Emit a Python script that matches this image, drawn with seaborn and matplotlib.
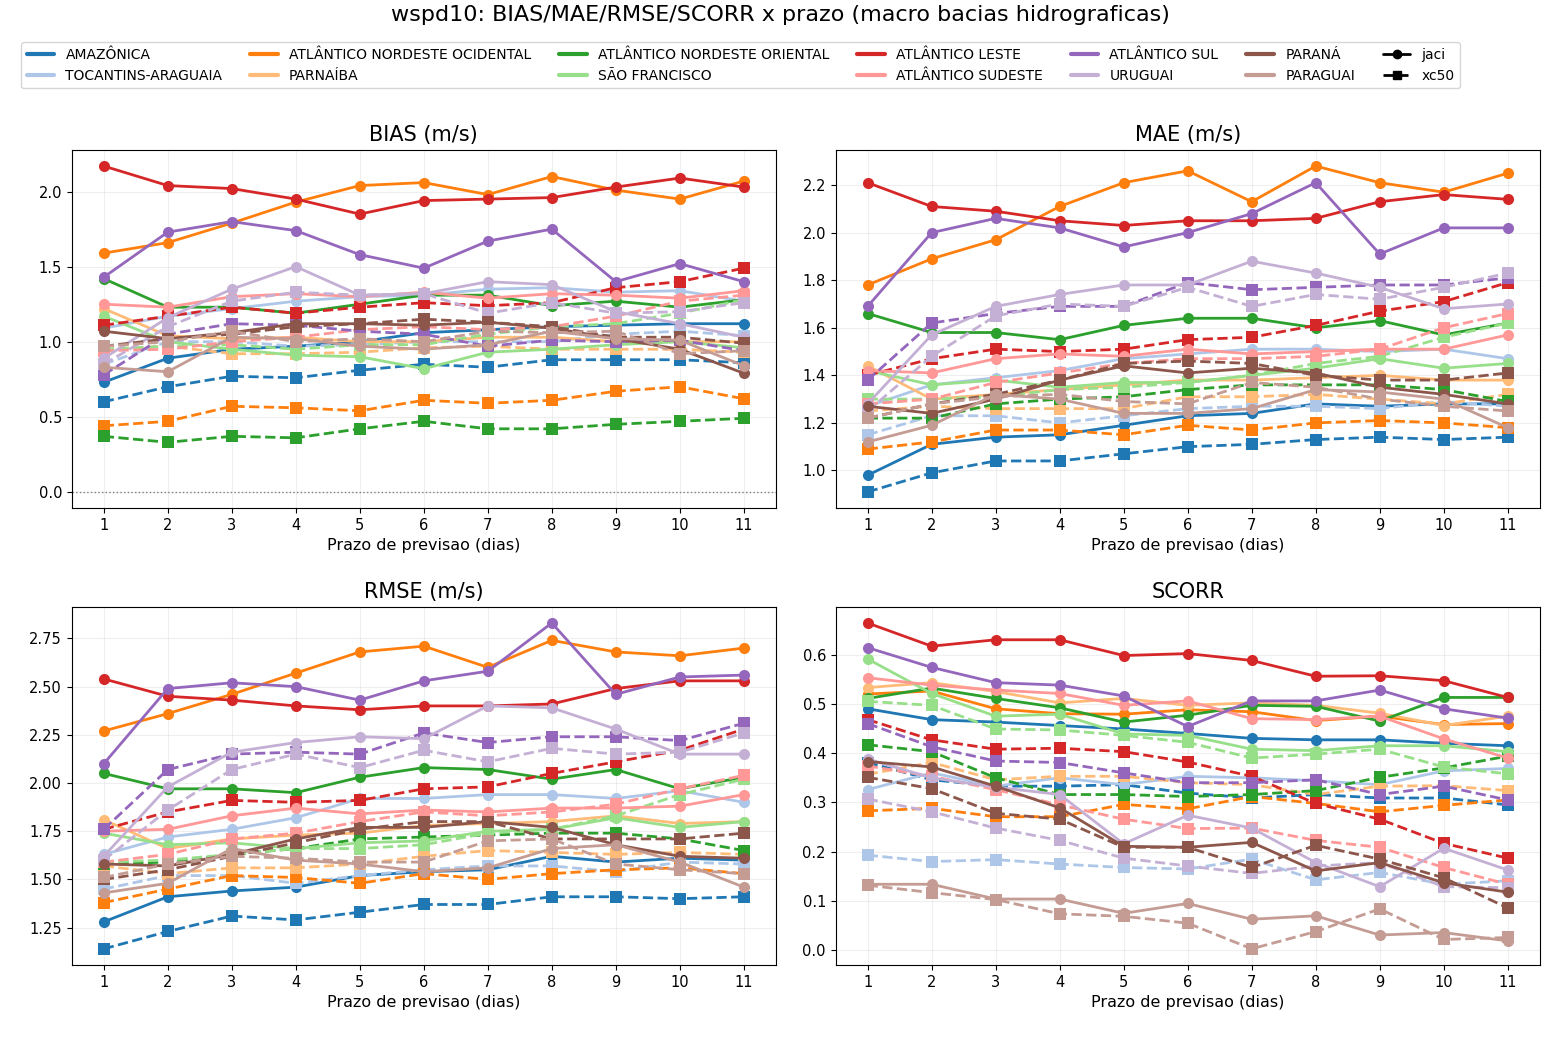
import seaborn as sns
import matplotlib
matplotlib.use("Agg")
import matplotlib.pyplot as plt
from matplotlib.lines import Line2D
import pandas as pd

leads = list(range(1, 12))
basins = ["AMAZÔNICA", "TOCANTINS-ARAGUAIA", "ATLÂNTICO NORDESTE OCIDENTAL", "PARNAÍBA",
          "ATLÂNTICO NORDESTE ORIENTAL", "SÃO FRANCISCO", "ATLÂNTICO LESTE", "ATLÂNTICO SUDESTE",
          "ATLÂNTICO SUL", "URUGUAI", "PARANÁ", "PARAGUAI"]
models = ["jaci", "xc50"]

# rows follow the order of `basins`, columns are lead days 1..11
bias_jaci = [
    [0.73, 0.89, 0.95, 0.97, 1.00, 1.06, 1.08, 1.10, 1.11, 1.12, 1.12],
    [1.09, 1.17, 1.22, 1.27, 1.30, 1.31, 1.35, 1.36, 1.33, 1.34, 1.27],
    [1.59, 1.66, 1.79, 1.93, 2.04, 2.06, 1.98, 2.10, 2.01, 1.95, 2.07],
    [1.22, 1.04, 1.02, 1.03, 1.00, 1.00, 1.03, 1.03, 1.00, 1.00, 1.00],
    [1.42, 1.23, 1.23, 1.19, 1.25, 1.31, 1.31, 1.24, 1.27, 1.23, 1.28],
    [1.17, 1.00, 0.95, 0.91, 0.90, 0.82, 0.93, 0.95, 0.98, 1.00, 0.96],
    [2.17, 2.04, 2.02, 1.95, 1.85, 1.94, 1.95, 1.96, 2.03, 2.09, 2.03],
    [1.25, 1.23, 1.30, 1.32, 1.30, 1.33, 1.29, 1.32, 1.31, 1.29, 1.34],
    [1.43, 1.73, 1.80, 1.74, 1.58, 1.49, 1.67, 1.75, 1.40, 1.52, 1.40],
    [0.89, 1.16, 1.35, 1.50, 1.31, 1.32, 1.40, 1.38, 1.20, 1.12, 1.03],
    [1.07, 1.02, 1.06, 1.12, 1.12, 1.11, 1.13, 1.09, 1.02, 0.95, 0.79],
    [0.83, 0.80, 1.03, 1.02, 0.97, 0.95, 0.98, 1.07, 1.02, 1.01, 0.84],
]
bias_xc50 = [
    [0.60, 0.70, 0.77, 0.76, 0.81, 0.85, 0.83, 0.88, 0.88, 0.88, 0.86],
    [0.85, 1.00, 1.00, 0.97, 0.98, 1.00, 1.00, 1.00, 1.05, 1.07, 1.04],
    [0.44, 0.47, 0.57, 0.56, 0.54, 0.61, 0.59, 0.61, 0.67, 0.70, 0.62],
    [0.95, 0.97, 0.92, 0.92, 0.93, 0.96, 0.97, 0.95, 0.95, 0.95, 0.93],
    [0.37, 0.33, 0.37, 0.36, 0.42, 0.47, 0.42, 0.42, 0.45, 0.47, 0.49],
    [0.95, 0.97, 0.98, 0.95, 0.98, 0.98, 1.05, 1.10, 1.12, 1.19, 1.28],
    [1.11, 1.17, 1.23, 1.19, 1.23, 1.26, 1.24, 1.26, 1.36, 1.40, 1.49],
    [0.94, 0.95, 1.00, 1.03, 1.08, 1.10, 1.08, 1.10, 1.17, 1.27, 1.31],
    [0.78, 1.05, 1.12, 1.11, 1.07, 1.05, 0.97, 1.01, 1.00, 1.01, 0.94],
    [0.85, 1.10, 1.27, 1.33, 1.31, 1.32, 1.19, 1.26, 1.19, 1.20, 1.26],
    [0.97, 1.02, 1.05, 1.10, 1.12, 1.15, 1.13, 1.10, 1.03, 1.03, 0.99],
    [0.97, 1.00, 1.07, 1.00, 1.02, 1.00, 1.07, 1.06, 1.07, 0.92, 0.94],
]
mae_jaci = [
    [0.98, 1.11, 1.14, 1.15, 1.19, 1.23, 1.24, 1.28, 1.27, 1.28, 1.28],
    [1.27, 1.36, 1.39, 1.42, 1.47, 1.49, 1.51, 1.51, 1.50, 1.51, 1.47],
    [1.78, 1.89, 1.97, 2.11, 2.21, 2.26, 2.13, 2.28, 2.21, 2.17, 2.25],
    [1.44, 1.30, 1.32, 1.34, 1.36, 1.38, 1.38, 1.39, 1.40, 1.38, 1.38],
    [1.66, 1.58, 1.58, 1.55, 1.61, 1.64, 1.64, 1.60, 1.63, 1.57, 1.62],
    [1.42, 1.36, 1.38, 1.35, 1.37, 1.37, 1.40, 1.43, 1.47, 1.43, 1.45],
    [2.21, 2.11, 2.09, 2.05, 2.03, 2.05, 2.05, 2.06, 2.13, 2.16, 2.14],
    [1.42, 1.41, 1.47, 1.49, 1.48, 1.51, 1.49, 1.50, 1.51, 1.51, 1.57],
    [1.69, 2.00, 2.06, 2.02, 1.94, 2.00, 2.08, 2.21, 1.91, 2.02, 2.02],
    [1.28, 1.57, 1.69, 1.74, 1.78, 1.78, 1.88, 1.83, 1.77, 1.68, 1.70],
    [1.27, 1.24, 1.30, 1.38, 1.44, 1.41, 1.43, 1.41, 1.35, 1.32, 1.28],
    [1.12, 1.19, 1.32, 1.30, 1.24, 1.24, 1.26, 1.34, 1.33, 1.30, 1.18],
]
mae_xc50 = [
    [0.91, 0.99, 1.04, 1.04, 1.07, 1.10, 1.11, 1.13, 1.14, 1.13, 1.14],
    [1.15, 1.23, 1.23, 1.20, 1.23, 1.26, 1.27, 1.27, 1.26, 1.29, 1.27],
    [1.09, 1.12, 1.17, 1.17, 1.15, 1.19, 1.17, 1.20, 1.21, 1.20, 1.18],
    [1.25, 1.27, 1.26, 1.26, 1.26, 1.31, 1.31, 1.32, 1.30, 1.28, 1.32],
    [1.22, 1.22, 1.28, 1.30, 1.31, 1.34, 1.36, 1.36, 1.36, 1.34, 1.29],
    [1.30, 1.30, 1.31, 1.34, 1.35, 1.37, 1.40, 1.45, 1.48, 1.56, 1.62],
    [1.40, 1.47, 1.51, 1.50, 1.51, 1.55, 1.56, 1.61, 1.67, 1.71, 1.79],
    [1.28, 1.30, 1.37, 1.41, 1.45, 1.47, 1.47, 1.48, 1.51, 1.60, 1.66],
    [1.38, 1.62, 1.66, 1.69, 1.69, 1.79, 1.76, 1.77, 1.78, 1.78, 1.81],
    [1.25, 1.48, 1.65, 1.70, 1.69, 1.77, 1.69, 1.74, 1.72, 1.77, 1.83],
    [1.22, 1.28, 1.32, 1.38, 1.45, 1.46, 1.45, 1.40, 1.38, 1.38, 1.41],
    [1.22, 1.28, 1.31, 1.32, 1.29, 1.28, 1.37, 1.35, 1.30, 1.27, 1.25],
]
rmse_jaci = [
    [1.28, 1.41, 1.44, 1.46, 1.52, 1.54, 1.55, 1.62, 1.59, 1.61, 1.60],
    [1.63, 1.72, 1.76, 1.82, 1.92, 1.92, 1.94, 1.94, 1.92, 1.96, 1.90],
    [2.27, 2.36, 2.46, 2.57, 2.68, 2.71, 2.60, 2.74, 2.68, 2.66, 2.70],
    [1.81, 1.66, 1.71, 1.73, 1.74, 1.78, 1.79, 1.80, 1.83, 1.79, 1.80],
    [2.05, 1.97, 1.97, 1.95, 2.03, 2.08, 2.07, 2.02, 2.07, 1.97, 2.03],
    [1.74, 1.68, 1.69, 1.66, 1.69, 1.70, 1.75, 1.76, 1.82, 1.77, 1.80],
    [2.54, 2.45, 2.43, 2.40, 2.38, 2.40, 2.40, 2.41, 2.49, 2.53, 2.53],
    [1.75, 1.76, 1.83, 1.87, 1.84, 1.86, 1.85, 1.87, 1.87, 1.88, 1.94],
    [2.10, 2.49, 2.52, 2.50, 2.43, 2.53, 2.58, 2.83, 2.46, 2.55, 2.56],
    [1.62, 1.98, 2.16, 2.21, 2.24, 2.23, 2.40, 2.39, 2.28, 2.15, 2.15],
    [1.58, 1.57, 1.63, 1.71, 1.77, 1.77, 1.80, 1.77, 1.68, 1.62, 1.61],
    [1.43, 1.48, 1.66, 1.60, 1.58, 1.54, 1.56, 1.66, 1.68, 1.59, 1.46],
]
rmse_xc50 = [
    [1.14, 1.23, 1.31, 1.29, 1.33, 1.37, 1.37, 1.41, 1.41, 1.40, 1.41],
    [1.45, 1.52, 1.52, 1.48, 1.52, 1.55, 1.57, 1.57, 1.54, 1.59, 1.58],
    [1.38, 1.45, 1.52, 1.51, 1.48, 1.53, 1.50, 1.53, 1.55, 1.56, 1.53],
    [1.57, 1.53, 1.56, 1.56, 1.58, 1.62, 1.65, 1.64, 1.63, 1.64, 1.63],
    [1.58, 1.59, 1.63, 1.66, 1.71, 1.72, 1.73, 1.74, 1.74, 1.71, 1.65],
    [1.59, 1.60, 1.63, 1.66, 1.66, 1.68, 1.74, 1.76, 1.83, 1.94, 2.02],
    [1.76, 1.85, 1.91, 1.90, 1.91, 1.97, 1.98, 2.05, 2.11, 2.17, 2.28],
    [1.59, 1.63, 1.71, 1.74, 1.80, 1.85, 1.83, 1.85, 1.89, 1.97, 2.04],
    [1.76, 2.07, 2.15, 2.16, 2.15, 2.26, 2.21, 2.24, 2.24, 2.22, 2.31],
    [1.60, 1.86, 2.07, 2.15, 2.08, 2.17, 2.11, 2.18, 2.15, 2.16, 2.26],
    [1.50, 1.55, 1.62, 1.69, 1.76, 1.80, 1.80, 1.71, 1.71, 1.71, 1.74],
    [1.51, 1.58, 1.62, 1.61, 1.59, 1.59, 1.70, 1.71, 1.58, 1.55, 1.53],
]
scorr_jaci = [
    [0.490, 0.468, 0.463, 0.456, 0.449, 0.440, 0.430, 0.427, 0.427, 0.420, 0.415],
    [0.326, 0.360, 0.333, 0.350, 0.336, 0.353, 0.350, 0.344, 0.336, 0.364, 0.369],
    [0.520, 0.526, 0.490, 0.480, 0.479, 0.488, 0.484, 0.466, 0.475, 0.458, 0.460],
    [0.533, 0.543, 0.525, 0.502, 0.511, 0.497, 0.502, 0.497, 0.481, 0.456, 0.475],
    [0.511, 0.532, 0.511, 0.492, 0.463, 0.477, 0.497, 0.495, 0.465, 0.513, 0.513],
    [0.591, 0.521, 0.475, 0.479, 0.439, 0.436, 0.408, 0.405, 0.415, 0.415, 0.403],
    [0.664, 0.617, 0.630, 0.630, 0.598, 0.602, 0.588, 0.556, 0.557, 0.547, 0.513],
    [0.553, 0.538, 0.528, 0.521, 0.497, 0.506, 0.470, 0.468, 0.475, 0.429, 0.390],
    [0.614, 0.574, 0.543, 0.538, 0.516, 0.454, 0.506, 0.506, 0.528, 0.490, 0.471],
    [0.388, 0.350, 0.331, 0.316, 0.216, 0.274, 0.248, 0.178, 0.129, 0.207, 0.163],
    [0.383, 0.372, 0.333, 0.289, 0.211, 0.209, 0.219, 0.161, 0.178, 0.137, 0.118],
    [0.134, 0.134, 0.104, 0.104, 0.075, 0.095, 0.063, 0.070, 0.031, 0.036, 0.019],
]
scorr_xc50 = [
    [0.381, 0.346, 0.333, 0.333, 0.336, 0.319, 0.309, 0.316, 0.309, 0.309, 0.295],
    [0.193, 0.180, 0.184, 0.175, 0.168, 0.165, 0.185, 0.143, 0.158, 0.134, 0.141],
    [0.283, 0.288, 0.271, 0.271, 0.296, 0.287, 0.312, 0.298, 0.281, 0.294, 0.305],
    [0.357, 0.381, 0.346, 0.353, 0.353, 0.340, 0.336, 0.316, 0.333, 0.334, 0.324],
    [0.417, 0.403, 0.350, 0.316, 0.316, 0.312, 0.316, 0.324, 0.351, 0.370, 0.394],
    [0.505, 0.497, 0.449, 0.447, 0.436, 0.422, 0.390, 0.398, 0.408, 0.372, 0.358],
    [0.468, 0.427, 0.408, 0.410, 0.403, 0.382, 0.353, 0.298, 0.266, 0.217, 0.187],
    [0.374, 0.353, 0.326, 0.295, 0.266, 0.247, 0.248, 0.223, 0.209, 0.168, 0.134],
    [0.460, 0.413, 0.384, 0.381, 0.360, 0.340, 0.340, 0.346, 0.316, 0.333, 0.305],
    [0.307, 0.281, 0.248, 0.223, 0.187, 0.171, 0.156, 0.171, 0.178, 0.129, 0.127],
    [0.351, 0.328, 0.278, 0.266, 0.209, 0.209, 0.168, 0.213, 0.185, 0.147, 0.086],
    [0.132, 0.117, 0.103, 0.074, 0.069, 0.055, 0.003, 0.038, 0.084, 0.022, 0.026],
]

metrics = {
    "BIAS (m/s)": (bias_jaci, bias_xc50),
    "MAE (m/s)": (mae_jaci, mae_xc50),
    "RMSE (m/s)": (rmse_jaci, rmse_xc50),
    "SCORR": (scorr_jaci, scorr_xc50),
}

# long format table
rows = []
for metric, tables in metrics.items():
    for model, table in zip(models, tables):
        for basin, vals in zip(basins, table):
            for lead, v in zip(leads, vals):
                rows.append((metric, basin, model, lead, v))
df = pd.DataFrame(rows, columns=["metric", "basin", "model", "lead", "value"])

sns.set_style("ticks")
plt.rcParams["font.family"] = ["DejaVu Sans"]
plt.rcParams.update({"axes.edgecolor": "black", "text.color": "black",
                     "axes.labelcolor": "black", "xtick.color": "black",
                     "ytick.color": "black"})
palette = dict(zip(basins, sns.color_palette("tab20", 12)))

fig, axes = plt.subplots(2, 2, figsize=(15.6, 10.4), dpi=100)
fig.subplots_adjust(left=0.046, right=0.987, top=0.856, bottom=0.072, wspace=0.085, hspace=0.275)

for ax, metric in zip(axes.flat, metrics):
    sub = df[df["metric"] == metric]
    sns.lineplot(data=sub, x="lead", y="value", hue="basin", style="model",
                 hue_order=basins, style_order=models, palette=palette,
                 markers={"jaci": "o", "xc50": "s"},
                 dashes={"jaci": "", "xc50": (3.7, 1.6)},
                 lw=2, markersize=8, markeredgewidth=0, legend=False, ax=ax)
    if metric.startswith("BIAS"):
        ax.axhline(0, color="gray", ls=":", lw=1)
    ax.set_title(metric, fontsize=15)
    ax.set_xlabel("Prazo de previsao (dias)", fontsize=11.5)
    ax.set_ylabel("")
    ax.set_xticks(leads)
    ax.tick_params(labelsize=10.5)
    ax.grid(True, alpha=0.3)

handles = [Line2D([0], [0], color=palette[b], lw=3) for b in basins]
handles += [Line2D([0], [0], color="black", lw=2, marker="o"),
            Line2D([0], [0], color="black", lw=2, ls="--", marker="s")]
labels = basins + models
fig.legend(handles, labels, loc="upper left", bbox_to_anchor=(0.009, 0.966),
           ncol=7, fontsize=10, frameon=True)

fig.suptitle("wspd10: BIAS/MAE/RMSE/SCORR x prazo (macro bacias hidrograficas)", fontsize=16, y=0.995)

fig.savefig("out.png", dpi=100)
